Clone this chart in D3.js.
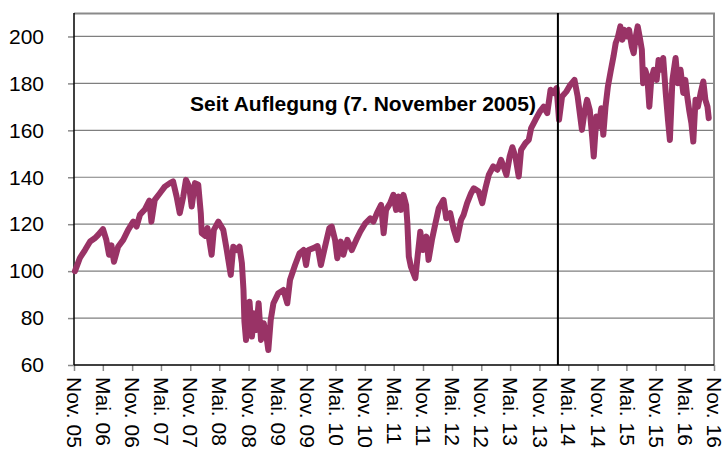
<!DOCTYPE html>
<html>
<head>
<meta charset="utf-8">
<script src="https://cdn.jsdelivr.net/npm/d3@7"></script>
<style>
  body { margin: 0; background: #fff; }
  text { font-family: Arial, "Liberation Sans", sans-serif; fill: #000; }
</style>
</head>
<body>
<div id="chart"></div>
<script>
const AREA_WIDTH = 724;
const AREA_HEIGHT = 450;
const MARGIN = { TOP: 13, RIGHT: 10, BOTTOM: 85, LEFT: 74 };
const WIDTH = AREA_WIDTH - MARGIN.LEFT - MARGIN.RIGHT;
const HEIGHT = AREA_HEIGHT - MARGIN.TOP - MARGIN.BOTTOM;

// Wertentwicklung seit Auflegung (Index 100 = 7. Nov. 2005)
const dates = [
  "2005-11-07","2005-12-08","2006-01-09","2006-02-10","2006-03-11","2006-04-01","2006-05-02","2006-05-23",
  "2006-06-09","2006-06-24","2006-07-10","2006-08-05","2006-09-06","2006-10-07","2006-11-08","2006-11-29",
  "2006-12-20","2007-01-21","2007-02-17","2007-03-02","2007-03-23","2007-04-24","2007-05-25","2007-06-26",
  "2007-07-16","2007-08-07","2007-08-27","2007-09-18","2007-10-05","2007-10-25","2007-11-10","2007-11-30",
  "2007-12-21","2008-01-06","2008-01-12","2008-02-03","2008-02-17","2008-03-14","2008-03-28","2008-04-25",
  "2008-05-26","2008-06-17","2008-07-12","2008-07-28","2008-08-19","2008-09-05","2008-09-20","2008-09-30",
  "2008-10-06","2008-10-16","2008-11-07","2008-11-22","2008-12-06","2008-12-19","2009-01-03","2009-01-18",
  "2009-02-04","2009-02-20","2009-03-05","2009-03-20","2009-04-06","2009-05-07","2009-06-08","2009-07-02",
  "2009-07-19","2009-08-20","2009-09-17","2009-10-12","2009-10-28","2009-11-12","2009-12-13","2010-01-08",
  "2010-01-29","2010-02-19","2010-03-23","2010-04-07","2010-04-28","2010-05-12","2010-06-03","2010-06-19",
  "2010-07-14","2010-08-11","2010-09-08","2010-10-03","2010-11-04","2010-12-05","2010-12-25","2011-01-16",
  "2011-02-11","2011-02-27","2011-03-14","2011-04-09","2011-04-29","2011-05-16","2011-05-30","2011-06-15",
  "2011-07-01","2011-07-18","2011-07-26","2011-08-04","2011-08-17","2011-09-14","2011-09-28","2011-10-15",
  "2011-11-01","2011-11-22","2011-12-06","2011-12-27","2012-01-18","2012-02-08","2012-03-09","2012-03-26",
  "2012-04-20","2012-05-11","2012-06-01","2012-06-27","2012-07-13","2012-08-04","2012-08-29","2012-09-15",
  "2012-10-16","2012-11-07","2012-11-27","2012-12-18","2013-01-15","2013-02-10","2013-03-05","2013-03-21",
  "2013-04-08","2013-04-28","2013-05-15","2013-06-03","2013-06-24","2013-07-09","2013-08-05","2013-08-26",
  "2013-09-10","2013-10-07","2013-11-04","2013-11-28","2013-12-20","2014-01-10","2014-01-30","2014-02-17",
  "2014-03-04","2014-03-23","2014-04-19","2014-05-14","2014-06-09","2014-06-29","2014-07-26","2014-08-10",
  "2014-08-27","2014-09-13","2014-09-28","2014-10-08","2014-10-25","2014-11-09","2014-11-24","2014-12-07",
  "2014-12-21","2015-01-05","2015-01-22","2015-02-09","2015-02-23","2015-03-07","2015-03-24","2015-04-06",
  "2015-04-19","2015-05-05","2015-05-18","2015-06-04","2015-06-16","2015-06-29","2015-07-11","2015-07-23",
  "2015-08-06","2015-08-14","2015-08-27","2015-09-09","2015-09-22","2015-10-04","2015-10-20","2015-11-07",
  "2015-11-19","2015-12-06","2015-12-18","2016-01-03","2016-01-17","2016-01-29","2016-02-14","2016-03-05",
  "2016-03-19","2016-04-05","2016-04-22","2016-05-05","2016-05-17","2016-05-29","2016-06-12","2016-06-24",
  "2016-07-08","2016-07-23","2016-08-09","2016-08-26","2016-09-08","2016-09-21","2016-09-29"
];
const values = [
  100, 105.6, 109, 112.6, 114, 115.4, 117.9, 113.3,
  107, 111, 104, 110.4, 113.3, 117.6, 121.1, 119,
  124, 126.4, 130, 121.1, 130.4, 133.2, 136, 137.5,
  138.2, 131.8, 124.7, 131.8, 138.9, 136, 127.5, 137.5,
  136.8, 124.7, 116.2, 115, 118.3, 107, 117.6, 121.1,
  117.6, 109, 98.4, 110.4, 109, 110.4, 103.4, 92,
  78.5, 70.7, 87, 72.1, 82, 74.9, 86.3, 70.7,
  77.8, 72.8, 66.4, 79.2, 86.3, 90.6, 92, 86.3,
  96.2, 102.6, 107.6, 109, 102.6, 109, 109.8, 110.7,
  102.6, 109, 118.3, 119, 113.3, 105.5, 112.6, 107,
  113.3, 109, 113.3, 116.8, 120.4, 122.5, 121.1, 124.7,
  128.2, 116.2, 126.1, 129, 132.5, 126.1, 131.8, 126.1,
  132.5, 128.2, 120.4, 106.2, 101.9, 97, 106.2, 116.8,
  109, 114.7, 104.8, 113.3, 120.4, 126.8, 130.4, 122.5,
  124.7, 118, 113.3, 121.8, 124, 129, 133.2, 135.3,
  133.9, 129, 135.3, 141, 144.6, 143.2, 147.4, 144.6,
  141, 148.8, 152.8, 148.8, 140.3, 151.7, 154.5, 155.9,
  160.9, 164.5, 168, 170.1, 167.3, 177.3, 175.9, 178,
  164.5, 174.4, 176.5, 179.4, 181.5, 174.4, 160.2, 167.3,
  173, 168.7, 157.4, 148.8, 165.9, 161.6, 169.4, 158.1,
  170.1, 178.7, 185.1, 191.5, 197.2, 199.3, 204.3, 198.6,
  202.8, 200, 202.8, 195.7, 192.9, 200, 204.3, 200,
  194.3, 180.1, 185.8, 183, 170.1, 181.5, 185.8, 181.5,
  190, 185.8, 190.8, 175.9, 164.5, 155.9, 181.5, 190.8,
  180.1, 185.8, 175.9, 181.5, 174.4, 168.7, 163.1, 155.2,
  173, 170.1, 175.9, 180.8, 173, 170.1, 165.2
];

const xTickDates = [
  "2005-11-01","2006-05-01","2006-11-01","2007-05-01","2007-11-01","2008-05-01","2008-11-01","2009-05-01",
  "2009-11-01","2010-05-01","2010-11-01","2011-05-01","2011-11-01","2012-05-01","2012-11-01","2013-05-01",
  "2013-11-01","2014-05-01","2014-11-01","2015-05-01","2015-11-01","2016-05-01","2016-11-01"
];
const xTickLabels = [
  "Nov. 05","Mai. 06","Nov. 06","Mai. 07","Nov. 07","Mai. 08","Nov. 08","Mai. 09",
  "Nov. 09","Mai. 10","Nov. 10","Mai. 11","Nov. 11","Mai. 12","Nov. 12","Mai. 13",
  "Nov. 13","Mai. 14","Nov. 14","Mai. 15","Nov. 15","Mai. 16","Nov. 16"
];
const yTicks = [60, 80, 100, 120, 140, 160, 180, 200];
const markerDate = "2014-02-25";
const annotation = "Seit Auflegung (7. November 2005)";

const parse = d3.timeParse("%Y-%m-%d");
const data = dates.map((d, i) => ({ date: parse(d), value: values[i] }));

const svg = d3.select('#chart')
              .append('svg')
              .attr('width', AREA_WIDTH)
              .attr('height', AREA_HEIGHT)
              .append('g')
              .attr('transform', `translate(${MARGIN.LEFT},${MARGIN.TOP})`);

const x = d3.scaleTime()
            .domain([parse(xTickDates[0]), parse(xTickDates[xTickDates.length - 1])])
            .range([0, WIDTH]);
const y = d3.scaleLinear()
            .domain([60, 210])
            .range([HEIGHT, 0]);

// Gitternetz
svg.append('g')
     .selectAll('line')
     .data(yTicks.slice(1))
     .join('line')
     .attr('x1', 0)
     .attr('x2', WIDTH)
     .attr('y1', d => y(d))
     .attr('y2', d => y(d))
     .attr('stroke', '#7f7f7f')
     .attr('stroke-width', 1.2);

// Rahmen oben/rechts
svg.append('path')
     .attr('d', `M0,0.5H${WIDTH}V${HEIGHT}`)
     .attr('fill', 'none')
     .attr('stroke', '#8a8a8a')
     .attr('stroke-width', 2);

// y-Achse
const yAxis = svg.append('g')
                 .call(d3.axisLeft(y).tickValues(yTicks).tickSize(6).tickPadding(24));
yAxis.select('.domain').remove();
yAxis.selectAll('.tick line').attr('stroke', '#8a8a8a').attr('stroke-width', 1.5);
yAxis.selectAll('.tick text')
       .style('font-family', 'Arial, "Liberation Sans", sans-serif')
       .style('font-size', '21px')
       .attr('fill', '#000');

// x-Achse
const xAxis = svg.append('g')
                 .attr('transform', `translate(0,${HEIGHT})`)
                 .call(d3.axisBottom(x)
                         .tickValues(xTickDates.map(parse))
                         .tickSize(6)
                         .tickFormat((d, i) => xTickLabels[i]));
xAxis.select('.domain').remove();
xAxis.selectAll('.tick line').attr('stroke', '#8a8a8a').attr('stroke-width', 1.5);
xAxis.selectAll('.tick text')
       .style('font-family', 'Arial, "Liberation Sans", sans-serif')
       .style('font-size', '21px')
       .attr('fill', '#000')
       .attr('text-anchor', 'start')
       .attr('transform', 'rotate(90)')
       .attr('x', 12)
       .attr('y', 0)
       .attr('dy', '0.35em');

// Achsenlinien
svg.append('line')
     .attr('x1', 0).attr('x2', 0)
     .attr('y1', 0).attr('y2', HEIGHT)
     .attr('stroke', '#000').attr('stroke-width', 1.5);
svg.append('line')
     .attr('x1', 0).attr('x2', WIDTH)
     .attr('y1', HEIGHT).attr('y2', HEIGHT)
     .attr('stroke', '#000').attr('stroke-width', 1.5);

// Kurve
const line = d3.line()
               .x(d => x(d.date))
               .y(d => y(d.value));
svg.append('path')
     .datum(data)
     .attr('fill', 'none')
     .attr('stroke', '#993366')
     .attr('stroke-width', 6)
     .attr('stroke-linejoin', 'round')
     .attr('stroke-linecap', 'round')
     .attr('d', line);

// Markierung
svg.append('line')
     .attr('x1', x(parse(markerDate))).attr('x2', x(parse(markerDate)))
     .attr('y1', 0).attr('y2', HEIGHT)
     .attr('stroke', '#000').attr('stroke-width', 2);

svg.append('text')
     .attr('x', x(parse(markerDate)) - 22)
     .attr('y', 98)
     .attr('text-anchor', 'end')
     .style('font-size', '21px')
     .style('font-weight', 'bold')
     .text(annotation);
</script>
</body>
</html>
